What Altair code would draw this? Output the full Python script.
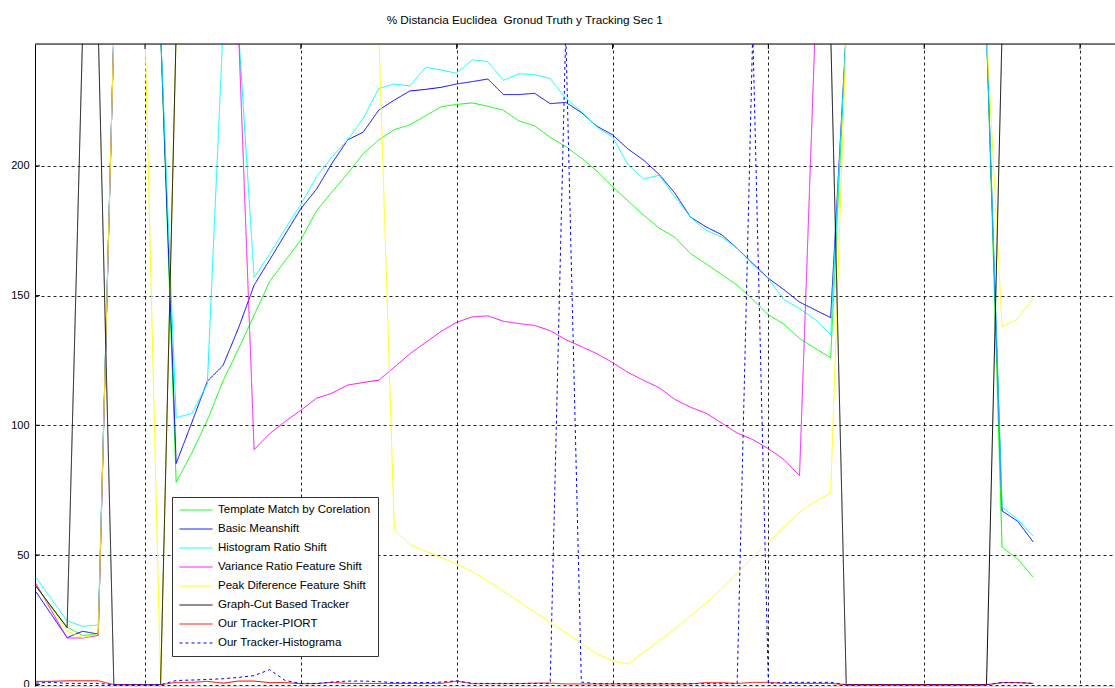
import altair as alt
import pandas as pd

# ---------------- data ----------------
frames = list(range(3, 68))  # frame index 3..67

series_names = [
    "Template Match by Corelation",
    "Basic Meanshift",
    "Histogram Ratio Shift",
    "Variance Ratio Feature Shift",
    "Peak Diference Feature Shift",
    "Graph-Cut Based Tracker",
    "Our Tracker-PIORT",
    "Our Tracker-Histograma",
]

# values above ~247 lie outside the visible y range (clipped at the top)
template_match = [38, 30, 22.2, 19, 19.5,
                  252, 252, 252, 252,
                  78, 89.3, 102, 117, 129.5, 142.4, 155.5, 163.5, 171.5, 182.7,
                  190, 197, 204.7, 210, 214, 215.8, 219.3, 222.8, 223.7, 224.3,
                  223, 221.5, 217.3, 215.5, 211, 207.5, 203, 198, 192, 186.5,
                  181, 176, 172.5, 166.2, 162.3, 158.1, 154, 148.5, 142.6, 139,
                  133.5, 129.7, 126,
                  252, 252, 252, 252, 252, 252, 252, 252, 252, 252,
                  53, 48.5, 41.4]

basic_meanshift = [35.8, 27, 18.2, 20.6, 19.5,
                   252, 252, 252, 252,
                   85.3, 101, 117, 123, 137.5, 154, 163.8, 173.7, 183.5, 191,
                   201, 210, 213, 221.5, 225.4, 228.9, 229.5, 230.3, 231.6, 232.5,
                   233.5, 227.5, 227.5, 228, 224, 224.5, 220.6, 215.3, 212, 206.5,
                   202.2, 196.7, 189.5, 180.3, 176.5, 173.5, 168.2, 162.4, 156.7, 152.3,
                   147.5, 144.5, 141.5,
                   252, 252, 252, 252, 252, 252, 252, 252, 252, 252,
                   67, 63, 55]

histogram_ratio = [41.4, 33, 24.6, 22.5, 23,
                   252, 252, 252, 252,
                   103, 104.5, 116, 252, 252, 157, 166, 175.8, 185.2, 195.7,
                   203.5, 210, 218.3, 229.9, 231.6, 230.8, 238, 237, 235.7, 240.9,
                   240.2, 233, 235.5, 235.2, 233.7, 226, 221, 215, 211.2, 200.4,
                   195, 196.4, 188, 180.3, 175.2, 172.6, 168.3, 162, 156.5, 148.5,
                   145, 140.8, 135,
                   252, 252, 252, 252, 252, 252, 252, 252, 252, 252,
                   68.5, 63.7, 57.3]

variance_ratio = [39, 28.5, 18, 18, 19,
                  252, 252, 252, 252,
                  252, 252, 252, 252, 252, 90.6, 96.8, 101.5, 105.8, 110.4,
                  112.4, 115.5, 116.5, 117.4, 122.4, 127.6, 131.9, 136.2, 139.7, 141.8,
                  142.2, 140.1, 139.2, 138.5, 136.5, 133, 130.4, 127.6, 124.2, 120.4,
                  117.3, 114.5, 110, 107, 104.7, 100.9, 97, 94.5, 91, 86.8,
                  80.6, 252, 252,
                  252, 252, 252, 252, 252, 252, 252, 252, 252, 252,
                  252, 252, 252]

peak_difference = [38, 29.5, 20.6, 18.2, 19.5,
                   252, 252, 252, 0.5,
                   252, 252, 252, 252, 252, 252, 252, 252, 252, 252,
                   252, 252, 252, 252, 59.7, 54, 51.5, 49, 46.5, 43.6,
                   40, 36, 32, 28, 24, 20, 16, 11.8, 9.2, 8,
                   12.5, 17, 21.5, 26.5, 31.5, 37, 43, 49.2, 55, 60.8,
                   66.5, 70.6, 73.8,
                   252, 252, 252, 252, 252, 252, 252, 252, 252, 252,
                   138, 141, 149]

graph_cut = [38, 30, 22, 252, 252,
             0, 0, 0, 0,
             252, 252, 252, 252, 252, 252, 252, 252, 252, 252,
             252, 252, 252, 252, 252, 252, 252, 252, 252, 252,
             252, 252, 252, 252, 252, 252, 252, 252, 252, 252,
             252, 252, 252, 252, 252, 252, 252, 252, 252, 252,
             252, 252, 252,
             0, 0, 0, 0, 0, 0, 0, 0, 0, 0,
             252, 252, 252]

tracker_piort = [1.3, 1.3, 1.5, 1.5, 1.5,
                 0, 0, 0, 0,
                 0.9, 0.9, 1.3, 0.6, 1.4, 1.4, 0.8, 0.8, 0.4, 0.4,
                 0.9, 0.5, 0.5, 0.5, 0.5, 0.5, 0.5, 0.5, 1.4, 0.4,
                 0.4, 0.4, 0.4, 0.6, 0.6, 0.3, 0.3, 0.3, 0.3, 0.3,
                 0.3, 0.3, 0.3, 0.3, 0.8, 0.8, 0.5, 0.9, 0.9, 0.5,
                 0.5, 0.5, 0.5,
                 0, 0, 0, 0, 0, 0, 0, 0, 0, 0,
                 0.8, 0.8, 0.5]

tracker_histograma = [0.6, 1.0, 0.5, 0.5, 0.5,
                      0, 0, 0, 0,
                      1.6, 1.8, 2.0, 2.3, 2.8, 3.5, 5.8, 1.6, 0.5, 0.5,
                      1.0, 1.4, 1.4, 1.2, 0.8, 0.8, 0.8, 1.0, 1.5, 0.5,
                      0.5, 0.5, 0.5, 0.5, 0.5, 252, 1.0, 0.4, 0.4, 0.4,
                      0.4, 0.4, 0.4, 0.4, 0.4, 0.4, 0.4, 252, 0.5, 0.9,
                      0.9, 0.9, 0.9,
                      0, 0, 0, 0, 0, 0, 0, 0, 0, 0,
                      0.8, 0.8, 0.5]

series_values = [template_match, basic_meanshift, histogram_ratio, variance_ratio,
                 peak_difference, graph_cut, tracker_piort, tracker_histograma]

x_ticks = [10, 20, 30, 40, 50, 60, 70]
y_ticks = [0, 50, 100, 150, 200]

title_text = "% Distancia Euclidea \u00a0Gronud Truth y Tracking Sec 1"

# ---------------- styling ----------------
colors = ["#00ff00", "#0000ff", "#00ffff", "#ff00ff", "#ffff00", "#000000", "#ff0000", "#0000ff"]
dashes = [[1, 0]] * 7 + [[3, 3]]
FONT = "Liberation Sans"
W, H = 1080, 642

rows = []
for k, (name, vals) in enumerate(zip(series_names, series_values)):
    for f, v in zip(frames, vals):
        rows.append({"frame": f, "value": v, "series": name, "k": k})
df = pd.DataFrame(rows)

xscale = alt.Scale(domain=[2.94, 72.246], nice=False, zero=False)
yscale = alt.Scale(domain=[-0.5, 247], nice=False, zero=False)

x_axis = alt.Axis(values=x_ticks, grid=True, labels=False, ticks=False,
                  domain=False, title=None, gridDash=[3, 3], gridColor="#222222")
y_axis = alt.Axis(values=y_ticks, grid=True, ticks=False, tickSize=0, domain=True,
                  domainColor="#000000", labelPadding=6, labelFont=FONT,
                  labelFontSize=11, labelColor="black", title=None,
                  gridDash=[3, 3], gridColor="#222222")

legend = alt.Legend(
    title=None, orient="none", legendX=137, legendY=453,
    symbolType="stroke", symbolSize=1089, symbolStrokeWidth=1,
    clipHeight=12, rowPadding=7, padding=7, labelOffset=5,
    labelFont=FONT, labelFontSize=11.5, labelColor="black", labelLimit=0,
    fillColor="white", strokeColor="#333333",
)

lines = alt.Chart(df).mark_line(clip=True, strokeWidth=1).encode(
    x=alt.X("frame:Q", scale=xscale, axis=x_axis),
    y=alt.Y("value:Q", scale=yscale, axis=y_axis),
    color=alt.Color("series:N", scale=alt.Scale(domain=series_names, range=colors), legend=legend),
    strokeDash=alt.StrokeDash("series:N", scale=alt.Scale(domain=series_names, range=dashes), legend=legend),
    order=alt.Order("frame:Q"),
)

top_border = alt.Chart(pd.DataFrame({"a": [0]})).mark_rule(color="#000000", strokeWidth=1).encode(
    x=alt.value(0), x2=alt.value(W), y=alt.value(0)
)

top_ticks = alt.Chart(pd.DataFrame({"frame": x_ticks})).mark_rule(color="#000000", strokeWidth=1).encode(
    x=alt.X("frame:Q", scale=xscale, axis=x_axis), y=alt.value(0), y2=alt.value(5)
)

left_ticks = alt.Chart(pd.DataFrame({"value": y_ticks})).mark_rule(color="#000000", strokeWidth=1).encode(
    y=alt.Y("value:Q", scale=yscale, axis=y_axis), x=alt.value(0), x2=alt.value(5)
)

chart = alt.layer(lines, top_border, top_ticks, left_ticks).properties(
    width=W, height=H,
    title=alt.Title(title_text, anchor="start", dx=376, offset=17, fontSize=11.75,
                    font=FONT, fontWeight="normal", color="black"),
    autosize=alt.AutoSizeParams(type="none"),
    padding={"left": 35, "top": 44, "right": 0, "bottom": 1},
).configure_view(stroke=None).configure(background="white")

chart.save("out.html", embed_options={"renderer": "svg", "actions": False})
